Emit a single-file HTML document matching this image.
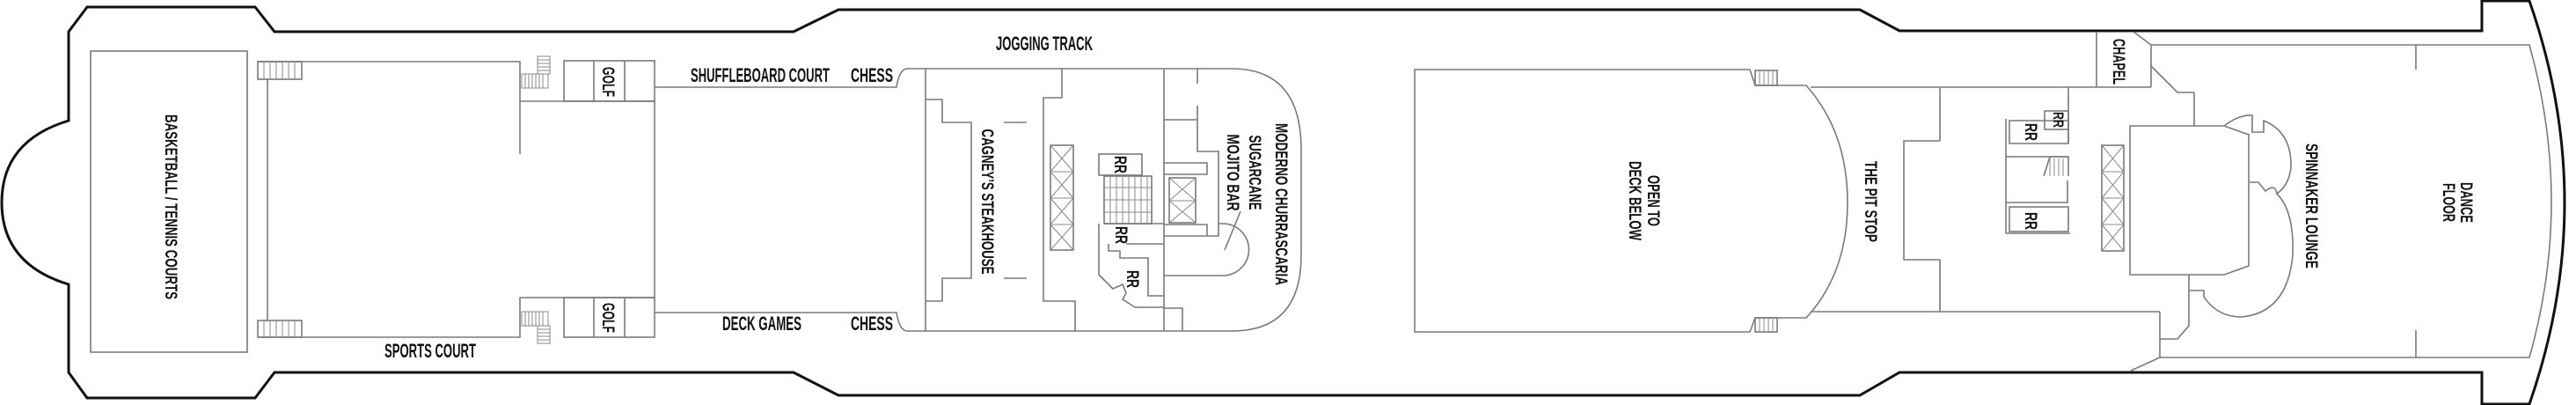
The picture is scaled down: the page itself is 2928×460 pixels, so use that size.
<!DOCTYPE html>
<html><head><meta charset="utf-8"><style>
html,body{margin:0;padding:0;background:#fff;}
svg{display:block;}
.h{fill:none;stroke:#111;stroke-width:3;}
.w{fill:none;stroke:#7a7a7a;stroke-width:1.6;}
.t{font-family:"Liberation Sans Narrow","Liberation Sans",sans-serif;font-weight:bold;fill:#111;}
.r{font-family:"Liberation Sans",sans-serif;font-weight:bold;fill:#111;}
.x{fill:none;stroke:#888;stroke-width:1;}
</style></head><body>
<svg width="2928" height="460" viewBox="0 0 2928 460" xmlns="http://www.w3.org/2000/svg">
<path class="h" d="M953,11 H2114 L2159,35 H2821 V1 H2875 Q2955,230 2875,459 H2821 V423 H2159 L2114,449 H953 L902,423 H312 L290,452 H99 L78,423 V323 Q2,300 2,230 Q2,160 78,137 V36 L99,8 H290 L312,36 H902 Z"/>
<path class="w" d="M2445,51 H2875 Q2925,230 2875,406 H2455"/>
<line class="w" x1="2746" y1="51" x2="2746" y2="79"/>
<line class="w" x1="2746" y1="375" x2="2746" y2="406"/>

<rect class="w" x="103" y="58" width="178" height="342"/>
<path class="w" d="M293,70 H591 V115 H744"/>
<path class="w" d="M591,115 V175"/>
<path class="w" d="M293,383 H591 V338 H744"/>
<line class="w" x1="304" y1="90" x2="304" y2="364"/>
<g class="w">
<rect x="293" y="70" width="50" height="20"/>
<rect x="293" y="364" width="50" height="19"/>
</g>
<g class="x">
<path d="M300,70V90M307,70V90M314,70V90M321,70V90M328,70V90M335,70V90"/>
<path d="M300,364V383M307,364V383M314,364V383M321,364V383M328,364V383M335,364V383"/>
<rect x="611" y="64" width="14" height="20"/>
<path d="M611,68H625M611,72H625M611,76H625M611,80H625"/>
<rect x="593" y="84" width="30" height="16"/>
<path d="M597,84V100M601,84V100M605,84V100M609,84V100M613,84V100M617,84V100"/>
<rect x="593" y="354" width="30" height="16"/>
<path d="M597,354V370M601,354V370M605,354V370M609,354V370M613,354V370M617,354V370"/>
<rect x="611" y="370" width="14" height="20"/>
<path d="M611,374H625M611,378H625M611,382H625M611,386H625"/>
</g>
<g class="w">
<rect x="641" y="69" width="103" height="46"/>
<line x1="675" y1="69" x2="675" y2="115"/><line x1="710" y1="69" x2="710" y2="115"/>
<rect x="641" y="338" width="103" height="45"/>
<line x1="675" y1="338" x2="675" y2="383"/><line x1="710" y1="338" x2="710" y2="383"/>
<line x1="744" y1="115" x2="744" y2="338"/>
<path d="M744,99 H1019 Q1022,80 1030,78"/>
<path d="M744,355 H1019 Q1022,374 1030,376"/>
</g>

<g class="w">
<path d="M1030,78 H1400 Q1479,78 1479,170 V290 Q1479,376 1400,376 H1030"/>
<line x1="1052" y1="78" x2="1052" y2="376"/>
<path d="M1207,78 V111 H1186 V342 H1222 V376"/>
<path d="M1052,113 H1071 V139 H1104 V316 H1071 V342 H1052"/>
<line x1="1141" y1="139" x2="1167" y2="139"/><line x1="1141" y1="316" x2="1167" y2="316"/>
<rect x="1194" y="165" width="26" height="119"/>
<line x1="1323" y1="78" x2="1323" y2="376"/>
<line x1="1361" y1="78" x2="1361" y2="95"/>
<path d="M1323,136 H1361 V120 M1361,136 V172 H1385 V268 H1323"/>
<path d="M1323,185 H1372 V198 H1323"/>
<rect x="1329" y="202" width="30" height="51"/>
<path d="M1323,255 H1372 V268"/>
<path d="M1385,254 H1390 A29,29 0 0 1 1390,313 H1323"/>
<line x1="1410" y1="240" x2="1392" y2="284"/>
<rect x="1249" y="175" width="49" height="24"/>
<rect x="1255" y="200" width="54" height="54"/>
<path d="M1249,254 V312 L1265,328 L1276,323 L1280,333 L1276,340 L1290,349 H1323"/>
<path d="M1255,254 H1323 M1280,277 H1323 M1260,277 V285 H1273 V293 H1305 V336 H1323"/>
<path d="M1323,350 H1344 V376"/>
</g>
<g class="x">
<path d="M1194,165L1220,195M1220,165L1194,195M1194,195L1220,225M1220,195L1194,225M1194,225L1220,255M1220,225L1194,255M1194,255L1220,284M1220,255L1194,284M1194,195H1220M1194,225H1220M1194,255H1220"/>
<path d="M1329,202L1359,228M1359,202L1329,228M1329,228L1359,253M1359,228L1329,253M1329,228H1359"/>
<path d="M1262,200V254M1269,200V254M1276,200V254M1283,200V254M1290,200V254M1297,200V254M1304,200V254M1255,213H1310M1255,227H1310M1255,241H1310"/>
</g>

<g class="w">
<path d="M1989,79 H1608 V377 H1989"/>
<path d="M1989,79 L1995,97 H2053 Q2100,150 2100,230 Q2100,310 2053,361 H1995 L1989,377"/>
<rect x="1995" y="80" width="25" height="17"/>
<rect x="1995" y="361" width="25" height="16"/>
<path d="M2058,99 H2445 M2058,354 H2455"/>
</g>
<g class="x"><path d="M2000,80V97M2005,80V97M2010,80V97M2015,80V97M2000,361V377M2005,361V377M2010,361V377M2015,361V377"/></g>

<g class="w">
<path d="M2205,99 V160 H2164 V295 H2205 V354"/>
<path d="M2383,36 V99 M2445,51 V99 M2425,36 L2445,51"/>
<path d="M2445,75 L2475,105 H2494 V143"/>
<line x1="2351" y1="99" x2="2351" y2="163"/>
<rect x="2324" y="126" width="27" height="21"/>
<path d="M2280,135 V265 M2284,137 H2351 V163 H2284 Z"/>
<path d="M2280,178 H2351 V200 M2350,205 V230 H2280"/>
<rect x="2284" y="235" width="67" height="28"/>
<path d="M2280,265 H2353"/>
<path d="M2323,200 L2330,178 H2351"/>
<rect x="2389" y="165" width="25" height="120"/>
<path d="M2421,143 H2528 L2556,153 V302 L2528,312 H2421 Z"/>
<path d="M2528,143 Q2545,130 2560,131 V150 H2573 V137 Q2605,150 2604,190 Q2602,210 2588,220 Q2586,208 2575,217 L2567,207 H2557"/>
<path d="M2588,220 Q2608,240 2606,290 Q2600,355 2548,360 Q2520,360 2505,337 V330 H2489"/>
<path d="M2488,312 V370 L2475,385 H2455 M2455,354 V406 L2422,421"/>
</g>
<g class="x">
<path d="M2389,165L2414,195M2414,165L2389,195M2389,195L2414,225M2414,195L2389,225M2389,225L2414,255M2414,225L2389,255M2389,255L2414,285M2414,255L2389,285M2389,195H2414M2389,225H2414M2389,255H2414"/>
<path d="M2330,180V200M2335,180V200M2340,180V200M2345,180V200"/>
</g>

<text class="t" x="864" y="93" font-size="22" text-anchor="middle" textLength="158" lengthAdjust="spacingAndGlyphs">SHUFFLEBOARD COURT</text>
<text class="t" x="967" y="93" font-size="22" textLength="48" lengthAdjust="spacingAndGlyphs">CHESS</text>
<text class="t" x="866" y="375" font-size="22" text-anchor="middle" textLength="90" lengthAdjust="spacingAndGlyphs">DECK GAMES</text>
<text class="t" x="967" y="375" font-size="22" textLength="48" lengthAdjust="spacingAndGlyphs">CHESS</text>
<text class="t" x="489" y="406" font-size="22" text-anchor="middle" textLength="104" lengthAdjust="spacingAndGlyphs">SPORTS COURT</text>
<text class="t" x="1187" y="57" font-size="22" text-anchor="middle" textLength="110" lengthAdjust="spacingAndGlyphs">JOGGING TRACK</text>

<g font-size="19" class="r" text-anchor="middle">
<text transform="translate(195,235) rotate(90)" dy="7" textLength="210" lengthAdjust="spacingAndGlyphs">BASKETBALL / TENNIS COURTS</text>
<text transform="translate(692,93) rotate(90)" dy="7" textLength="34" lengthAdjust="spacingAndGlyphs">GOLF</text>
<text transform="translate(692,361) rotate(90)" dy="7" textLength="34" lengthAdjust="spacingAndGlyphs">GOLF</text>
<text transform="translate(1123,229) rotate(90)" dy="7" textLength="165" lengthAdjust="spacingAndGlyphs">CAGNEY’S STEAKHOUSE</text>
<text transform="translate(1457,232) rotate(90)" dy="7" textLength="184" lengthAdjust="spacingAndGlyphs">MODERNO CHURRASCARIA</text>
<text transform="translate(1427,196) rotate(90)" dy="7" textLength="85" lengthAdjust="spacingAndGlyphs">SUGARCANE</text>
<text transform="translate(1402,196) rotate(90)" dy="7" textLength="87" lengthAdjust="spacingAndGlyphs">MOJITO BAR</text>
<text transform="translate(1274,187) rotate(90)" dy="7" textLength="20" lengthAdjust="spacingAndGlyphs">RR</text>
<text transform="translate(1275,267) rotate(90)" dy="7" textLength="20" lengthAdjust="spacingAndGlyphs">RR</text>
<text transform="translate(1288,317) rotate(90)" dy="7" textLength="20" lengthAdjust="spacingAndGlyphs">RR</text>
<text transform="translate(1880,228) rotate(90)" dy="7" textLength="58" lengthAdjust="spacingAndGlyphs">OPEN TO</text>
<text transform="translate(1859,228) rotate(90)" dy="7" textLength="90" lengthAdjust="spacingAndGlyphs">DECK BELOW</text>
<text transform="translate(2127,229) rotate(90)" dy="7" textLength="92" lengthAdjust="spacingAndGlyphs">THE PIT STOP</text>
<text transform="translate(2409,70) rotate(90)" dy="7" textLength="52" lengthAdjust="spacingAndGlyphs">CHAPEL</text>
<text transform="translate(2340,136) rotate(90)" dy="6" font-size="17" textLength="18" lengthAdjust="spacingAndGlyphs">RR</text>
<text transform="translate(2309,150) rotate(90)" dy="7" textLength="20" lengthAdjust="spacingAndGlyphs">RR</text>
<text transform="translate(2309,251) rotate(90)" dy="7" textLength="20" lengthAdjust="spacingAndGlyphs">RR</text>
<text transform="translate(2628,234) rotate(90)" dy="7" textLength="142" lengthAdjust="spacingAndGlyphs">SPINNAKER LOUNGE</text>
<text transform="translate(2804,230) rotate(90)" dy="7" textLength="46" lengthAdjust="spacingAndGlyphs">DANCE</text>
<text transform="translate(2784,230) rotate(90)" dy="7" textLength="44" lengthAdjust="spacingAndGlyphs">FLOOR</text>
</g>
</svg>
</body></html>
